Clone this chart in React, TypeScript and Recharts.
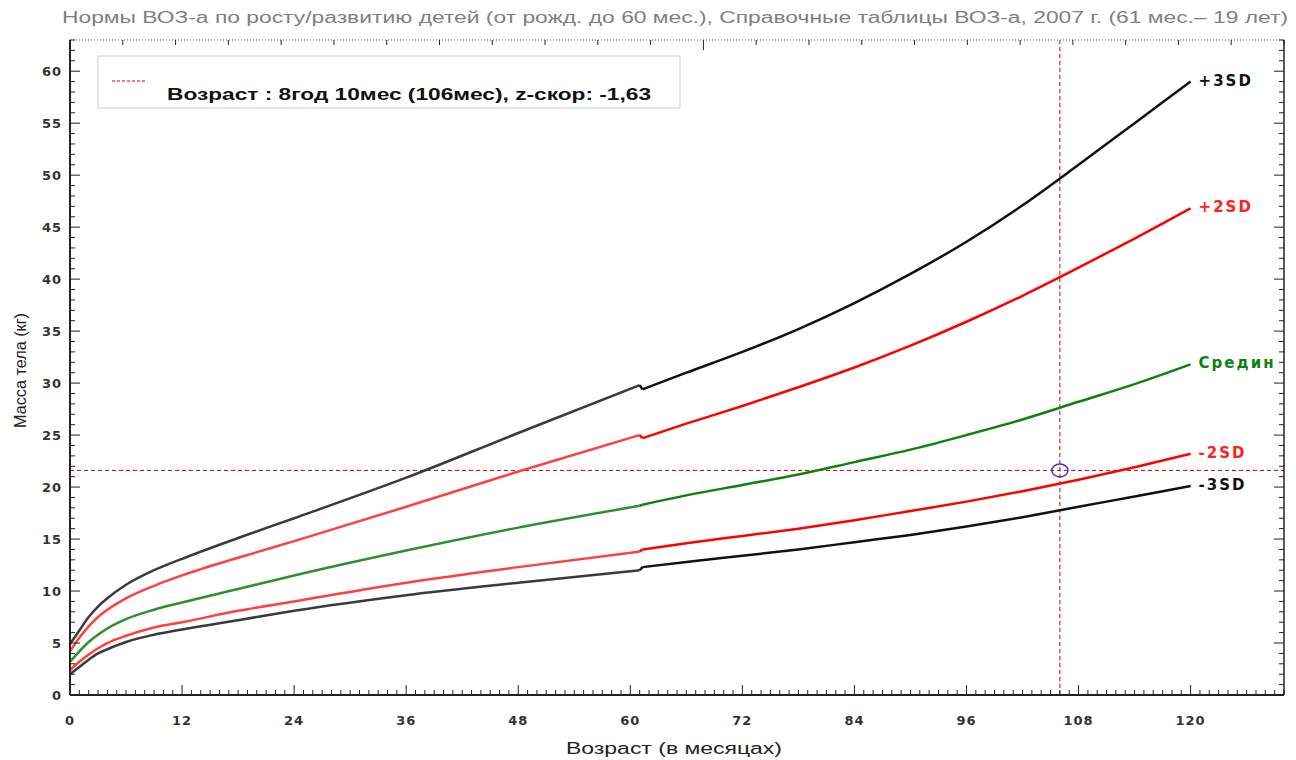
import { LabelList, Line, LineChart, ReferenceDot, ReferenceLine, XAxis, YAxis } from "recharts";

// ВОЗ 0–60 мес. (девочки), масса тела, кг
const agesWho = [0, 1, 2, 3, 4, 6, 9, 12, 18, 24, 36, 48, 61];
const plus3Who = [4.9, 6.2, 7.5, 8.5, 9.3, 10.6, 12.0, 13.1, 15.1, 17.0, 20.9, 25.2, 29.8];
const plus2Who = [4.2, 5.5, 6.6, 7.5, 8.2, 9.3, 10.5, 11.5, 13.2, 14.8, 18.1, 21.5, 25.0];
const medianWho = [3.2, 4.2, 5.1, 5.8, 6.4, 7.3, 8.2, 8.9, 10.2, 11.5, 13.9, 16.1, 18.2];
const minus2Who = [2.4, 3.2, 3.9, 4.5, 5.0, 5.7, 6.5, 7.0, 8.1, 9.0, 10.8, 12.3, 13.8];
const minus3Who = [2.0, 2.7, 3.4, 4.0, 4.4, 5.1, 5.8, 6.3, 7.2, 8.1, 9.6, 10.8, 12.0];

// Справочные таблицы ВОЗ 2007, 61–120 мес.
const agesRef = [61.3, 66, 72, 78, 84, 90, 96, 102, 108, 114, 120];
const plus3Ref = [29.4, 31.0, 33.0, 35.2, 37.7, 40.5, 43.6, 47.1, 51.0, 55.0, 59.0];
const plus2Ref = [24.7, 26.1, 27.8, 29.6, 31.5, 33.6, 35.9, 38.4, 41.1, 43.9, 46.8];
const medianRef = [18.3, 19.2, 20.2, 21.2, 22.4, 23.6, 25.0, 26.5, 28.2, 29.9, 31.8];
const minus2Ref = [14.0, 14.6, 15.3, 16.0, 16.8, 17.7, 18.6, 19.6, 20.7, 21.9, 23.2];
const minus3Ref = [12.3, 12.8, 13.4, 14.0, 14.7, 15.4, 16.2, 17.1, 18.1, 19.1, 20.1];

const childAge = 106;
const childWeight = 21.6;

const xTicks = Array.from({ length: 131 }, (_, i) => i);
const yTicks = Array.from({ length: 64 }, (_, i) => i);

const curves = [
  { key: "p3", label: "+3SD", who: plus3Who, ref: plus3Ref, colorA: "#3a3a3a", colorB: "#111111", text: "#111111" },
  { key: "p2", label: "+2SD", who: plus2Who, ref: plus2Ref, colorA: "#ff4040", colorB: "#ff0000", text: "#ff2020" },
  { key: "med", label: "Средин", who: medianWho, ref: medianRef, colorA: "#2f8f2f", colorB: "#108010", text: "#108010" },
  { key: "m2", label: "-2SD", who: minus2Who, ref: minus2Ref, colorA: "#ff4040", colorB: "#ff0000", text: "#ff2020" },
  { key: "m3", label: "-3SD", who: minus3Who, ref: minus3Ref, colorA: "#3a3a3a", colorB: "#111111", text: "#111111" },
];

// a: 0–61 (ВОЗ), c: стык двух таблиц, b: 61–120 (ВОЗ 2007)
const rows: Record<string, number>[] = [];
agesWho.forEach((age, i) => {
  const r: Record<string, number> = { age };
  curves.forEach((c) => {
    r[c.key + "a"] = c.who[i];
    if (i === agesWho.length - 1) r[c.key + "c"] = c.who[i];
  });
  rows.push(r);
});
agesRef.forEach((age, i) => {
  const r: Record<string, number> = { age };
  curves.forEach((c) => {
    r[c.key + "b"] = c.ref[i];
    if (i === 0) r[c.key + "c"] = c.ref[i];
  });
  rows.push(r);
});

const tickFont = { fontFamily: "DejaVu Sans", fontSize: 13, fontWeight: 700, fill: "#333", letterSpacing: 1 };

function BottomTick({ x, y, payload }: any) {
  const v = payload.value;
  const major = v % 12 === 0;
  return (
    <g>
      <line x1={x} x2={x} y1={y} y2={y - (major ? 10 : 5)} stroke="#222" />
      {major && (
        <text x={x} y={y + 30} textAnchor="middle" {...tickFont}>
          {v}
        </text>
      )}
    </g>
  );
}

function TopTick({ x, y, payload }: any) {
  const major = payload.value % 12 === 0;
  return <line x1={x} x2={x} y1={y} y2={y + (major ? 10 : 5)} stroke="#222" />;
}

function LeftTick({ x, y, payload }: any) {
  const v = payload.value;
  const major = v % 5 === 0;
  return (
    <g>
      <line x1={x} x2={x + (major ? 10 : 5)} y1={y} y2={y} stroke="#222" />
      {major && (
        <text x={x - 8} y={y + 5} textAnchor="end" {...tickFont}>
          {v}
        </text>
      )}
    </g>
  );
}

function RightTick({ x, y, payload }: any) {
  const major = payload.value % 5 === 0;
  return <line x1={x} x2={x - (major ? 10 : 5)} y1={y} y2={y} stroke="#222" />;
}

function endLabel(text: string, color: string) {
  return (p: any) =>
    p.index === rows.length - 1 ? (
      <text
        x={p.x + 8}
        y={p.y + 4}
        fill={color}
        fontFamily="DejaVu Sans"
        fontSize={15}
        fontWeight={700}
        letterSpacing={2}
      >
        {text}
      </text>
    ) : null;
}

export default function App() {
  return (
    <div style={{ position: "absolute", left: 0, top: 0, width: 1296, height: 760, background: "#fff" }}>
      <LineChart width={1296} height={760} data={rows} margin={{ top: 39, right: 11, bottom: 64, left: 0 }}>
        <XAxis
          dataKey="age"
          type="number"
          domain={[0, 130]}
          ticks={xTicks}
          interval={0}
          height={1}
          tickSize={0}
          tickMargin={0}
          tick={<BottomTick />}
          axisLine={{ stroke: "#222", strokeWidth: 2 }}
          allowDataOverflow
        />
        <XAxis
          xAxisId="top"
          orientation="top"
          type="number"
          domain={[0, 130]}
          ticks={xTicks}
          interval={0}
          height={1}
          tickSize={0}
          tickMargin={0}
          tick={<TopTick />}
          axisLine={{ stroke: "#555", strokeDasharray: "1 2" }}
          allowDataOverflow
        />
        <YAxis
          type="number"
          domain={[0, 63]}
          ticks={yTicks}
          interval={0}
          width={70}
          tickSize={0}
          tickMargin={0}
          tick={<LeftTick />}
          axisLine={{ stroke: "#222", strokeWidth: 2 }}
          allowDataOverflow
        />
        <YAxis
          yAxisId="right"
          orientation="right"
          type="number"
          domain={[0, 63]}
          ticks={yTicks}
          interval={0}
          width={1}
          tickSize={0}
          tickMargin={0}
          tick={<RightTick />}
          axisLine={{ stroke: "#222", strokeWidth: 1.5 }}
          allowDataOverflow
        />
        <ReferenceLine y={childWeight} stroke="#d00000" strokeDasharray="4 3" strokeWidth={1} />
        <ReferenceLine x={childAge} stroke="#d00000" strokeDasharray="4 3" strokeWidth={1} />
        {curves.map((c) => (
          <Line
            key={c.key + "a"}
            dataKey={c.key + "a"}
            type="monotone"
            stroke={c.colorA}
            strokeWidth={2.5}
            dot={false}
            isAnimationActive={false}
          />
        ))}
        {curves.map((c) => (
          <Line
            key={c.key + "c"}
            dataKey={c.key + "c"}
            type="linear"
            stroke={c.colorB}
            strokeWidth={2.5}
            dot={false}
            isAnimationActive={false}
          />
        ))}
        {curves.map((c) => (
          <Line
            key={c.key + "b"}
            dataKey={c.key + "b"}
            type="monotone"
            stroke={c.colorB}
            strokeWidth={2.5}
            dot={false}
            isAnimationActive={false}
          >
            <LabelList dataKey={c.key + "b"} content={endLabel(c.label, c.text)} />
          </Line>
        ))}
        <ReferenceDot
          x={childAge}
          y={childWeight}
          r={7}
          shape={(p: any) => <ellipse cx={p.cx} cy={p.cy} rx={8} ry={6.5} fill="none" stroke="#3535c0" strokeWidth={1.5} />}
        />
      </LineChart>

      <svg width={1296} height={760} style={{ position: "absolute", left: 0, top: 0, pointerEvents: "none" }}>
        <text
          x={62}
          y={23}
          textLength={1226}
          lengthAdjust="spacingAndGlyphs"
          fontFamily="Liberation Sans"
          fontSize={16}
          fill="#808080"
        >
          Нормы ВОЗ-а по росту/развитию детей (от рожд. до 60 мес.), Справочные таблицы ВОЗ-а, 2007 г. (61 мес.– 19 лет)
        </text>
        <rect x={98} y={56} width={582} height={52} fill="#fff" stroke="#d0d0d0" />
        <line x1={112} x2={146} y1={81} y2={81} stroke="#d00000" strokeDasharray="3 2" />
        <text
          x={167}
          y={100}
          textLength={484}
          lengthAdjust="spacingAndGlyphs"
          fontFamily="Liberation Sans"
          fontSize={17}
          fontWeight={700}
          fill="#111"
        >
          Возраст : 8год 10мес (106мес), z-скор: -1,63
        </text>
        <text
          x={566}
          y={754}
          textLength={216}
          lengthAdjust="spacingAndGlyphs"
          fontFamily="Liberation Sans"
          fontSize={16}
          fill="#222"
        >
          Возраст (в месяцах)
        </text>
        <text
          transform="translate(26 428) rotate(-90)"
          textLength={115}
          lengthAdjust="spacingAndGlyphs"
          fontFamily="Liberation Sans"
          fontSize={16}
          fill="#222"
        >
          Масса тела (кг)
        </text>
      </svg>
    </div>
  );
}
